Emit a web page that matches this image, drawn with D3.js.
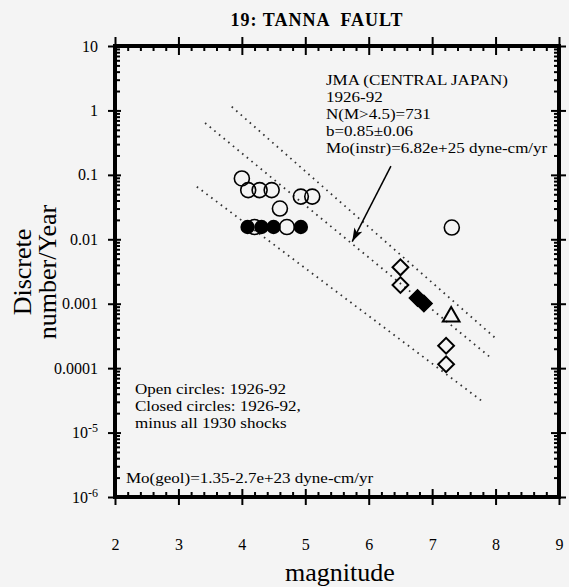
<!DOCTYPE html>
<html>
<head>
<meta charset="utf-8">
<script src="https://cdn.jsdelivr.net/npm/d3@7"></script>
<style>
  body { margin: 0; background: #f4f4f4; }
  svg { display: block; font-family: "Liberation Serif", "Times New Roman", serif; }
</style>
</head>
<body>
<svg id="chart" width="569" height="587"></svg>
<script>
// ---- data ----
const xTicks = [2, 3, 4, 5, 6, 7, 8, 9];
const yTicks = [10, 1, 0.1, 0.01, 0.001, 0.0001, 1e-5, 1e-6];
const yTickLabels = ["10", "1", "0.1", "0.01", "0.001", "0.0001", "10^-5", "10^-6"];

// open circles: 1926-92
const openMag  = [4.00, 4.10, 4.28, 4.47, 4.60, 4.93, 5.11, 4.20, 4.71, 7.31];
const openRate = [0.088, 0.058, 0.058, 0.058, 0.030, 0.046, 0.046, 0.0155, 0.0155, 0.0152];

// closed circles: 1926-92 minus all 1930 shocks
const closedMag  = [4.09, 4.31, 4.50, 4.93];
const closedRate = [0.0155, 0.0155, 0.0155, 0.0155];

// open diamonds
const diamondMag  = [6.50, 6.50, 7.22, 7.22];
const diamondRate = [0.00367, 0.00195, 0.000223, 0.000115];

// filled diamonds
const fDiamondMag  = [6.77, 6.87];
const fDiamondRate = [0.00123, 0.00101];

// open triangle
const triMag  = [7.30];
const triRate = [0.00063];

// dotted reference lines, from start (magnitude, rate) to end (magnitude, rate)
const refLineStartMag  = [3.84, 3.42, 3.29];
const refLineStartRate = [1.143, 0.638, 0.0655];
const refLineEndMag    = [8.03, 7.91, 7.80];
const refLineEndRate   = [2.74e-4, 1.49e-4, 3.01e-5];

// annotation arrow (magnitude, rate)
const arrowFrom = [6.35, 0.137];
const arrowTo   = [5.74, 0.0092];

const noteLines = ["JMA (CENTRAL JAPAN)", "1926-92", "N(M>4.5)=731", "b=0.85\u00b10.06",
                   "Mo(instr)=6.82e+25 dyne-cm/yr"];
const legendLines = ["Open circles: 1926-92", "Closed circles: 1926-92,", "minus all 1930 shocks"];
const geolNote = "Mo(geol)=1.35-2.7e+23 dyne-cm/yr";

// ---- layout ----
const svg = d3.select("#chart");
const L = 115, R = 559, T = 46, B = 497;
const x = d3.scaleLinear().domain([2, 9]).range([L, R]);
const y = d3.scaleLog().domain([1e-6, 10]).range([B, T]);
const FONT = '"Liberation Serif", "Times New Roman", serif';

const xMinor = d3.range(2, 9.001, 0.2).filter(v => Math.abs(v - Math.round(v)) > 1e-6);
const yMinor = [];
for (let e = -6; e < 1; e++) for (let k = 2; k <= 9; k++) yMinor.push(k * Math.pow(10, e));

function tickAxis(axisGen, tx, ty, values, size) {
  const g = svg.append("g").attr("transform", `translate(${tx},${ty})`)
    .call(axisGen.tickValues(values).tickSize(size).tickFormat(""));
  g.select(".domain").remove();
  g.selectAll("line").attr("stroke", "#000").attr("stroke-width", 2);
  return g;
}

// major ticks cross the frame, minor ticks point inward
tickAxis(d3.axisBottom(x), 0, B, xTicks, 8);
tickAxis(d3.axisBottom(x), 0, B, xTicks, -8);
tickAxis(d3.axisBottom(x), 0, B, xMinor, -5);
tickAxis(d3.axisTop(x), 0, T, xTicks, 9);
tickAxis(d3.axisTop(x), 0, T, xTicks, -9);
tickAxis(d3.axisTop(x), 0, T, xMinor, -5);
tickAxis(d3.axisLeft(y), L, 0, yTicks, 7);
tickAxis(d3.axisLeft(y), L, 0, yTicks, -6);
tickAxis(d3.axisLeft(y), L, 0, yMinor, -5);
tickAxis(d3.axisRight(y), R, 0, yTicks, 7);
tickAxis(d3.axisRight(y), R, 0, yTicks, -8);
tickAxis(d3.axisRight(y), R, 0, yMinor, -5);

// frame
svg.append("rect").attr("x", L).attr("y", T).attr("width", R - L).attr("height", B - T)
  .attr("fill", "none").attr("stroke", "#000").attr("stroke-width", 4);

// tick labels
const xl = svg.append("g").attr("transform", `translate(0,${B})`)
  .call(d3.axisBottom(x).tickValues(xTicks).tickSize(0).tickPadding(42).tickFormat(d3.format("d")));
xl.select(".domain").remove();
xl.attr("font-family", FONT).attr("font-size", 16);
xl.selectAll("text").attr("fill", "#000");

const yl = svg.append("g").attr("transform", `translate(${L},0)`)
  .call(d3.axisLeft(y).tickValues(yTicks).tickSize(0).tickPadding(17)
    .tickFormat((d, i) => yTickLabels[i]));
yl.select(".domain").remove();
yl.attr("font-family", FONT).attr("font-size", 16);
yl.selectAll("text").attr("fill", "#000").each(function () {
  const t = d3.select(this);
  const s = t.text();
  if (s.includes("^")) {
    const [base, exp] = s.split("^");
    t.text(null);
    t.append("tspan").text(base);
    t.append("tspan").attr("dy", "-0.5em").attr("font-size", 12).text(exp);
  }
});

// axis titles
svg.append("text").attr("x", 340).attr("y", 581).attr("text-anchor", "middle")
  .attr("font-size", 26).text("magnitude");
const yt = svg.append("text").attr("transform", "translate(0,272) rotate(-90)")
  .attr("text-anchor", "middle").attr("font-size", 26);
yt.append("tspan").attr("x", 0).attr("y", 31).text("Discrete");
yt.append("tspan").attr("x", 0).attr("y", 56).text("number/Year");

// title
svg.append("text").attr("x", 317).attr("y", 26).attr("text-anchor", "middle")
  .attr("font-size", 18).attr("font-weight", "bold").attr("letter-spacing", 1)
  .style("white-space", "pre").text("19: TANNA  FAULT");

// dotted reference lines
const plot = svg.append("g");
plot.selectAll("line.ref").data(refLineStartMag).join("line").attr("class", "ref")
  .attr("x1", (d, i) => x(refLineStartMag[i])).attr("y1", (d, i) => y(refLineStartRate[i]))
  .attr("x2", (d, i) => x(refLineEndMag[i])).attr("y2", (d, i) => y(refLineEndRate[i]))
  .attr("stroke", "#333").attr("stroke-width", 1.8).attr("stroke-dasharray", "1.6 4.4");

// closed circles
plot.selectAll("circle.closed").data(closedMag).join("circle").attr("class", "closed")
  .attr("cx", (d, i) => x(closedMag[i])).attr("cy", (d, i) => y(closedRate[i]))
  .attr("r", 7.2).attr("fill", "#000");

// open circles
plot.selectAll("circle.open").data(openMag).join("circle").attr("class", "open")
  .attr("cx", (d, i) => x(openMag[i])).attr("cy", (d, i) => y(openRate[i]))
  .attr("r", 7.5).attr("fill", "none").attr("stroke", "#000").attr("stroke-width", 1.6);

// diamonds
const diamond = d3.symbol().type(d3.symbolSquare);
plot.selectAll("path.diam").data(diamondMag).join("path").attr("class", "diam")
  .attr("d", diamond.size(125)())
  .attr("transform", (d, i) => `translate(${x(diamondMag[i])},${y(diamondRate[i])}) rotate(45)`)
  .attr("fill", "none").attr("stroke", "#000").attr("stroke-width", 2);
plot.selectAll("path.fdiam").data(fDiamondMag).join("path").attr("class", "fdiam")
  .attr("d", diamond.size(135)())
  .attr("transform", (d, i) => `translate(${x(fDiamondMag[i])},${y(fDiamondRate[i])}) rotate(45)`)
  .attr("fill", "#000").attr("stroke", "#000").attr("stroke-width", 1.5);

// triangle
plot.selectAll("path.tri").data(triMag).join("path").attr("class", "tri")
  .attr("d", d3.symbol().type(d3.symbolTriangle).size(120)())
  .attr("transform", (d, i) => `translate(${x(triMag[i])},${y(triRate[i])})`)
  .attr("fill", "none").attr("stroke", "#000").attr("stroke-width", 2);

// arrow
svg.append("defs").append("marker").attr("id", "ah").attr("viewBox", "0 0 12 8")
  .attr("refX", 12).attr("refY", 4).attr("markerWidth", 14).attr("markerHeight", 9)
  .attr("markerUnits", "userSpaceOnUse").attr("orient", "auto")
  .append("path").attr("d", "M0,0 L12,4 L0,8 L3,4 Z").attr("fill", "#000");
svg.append("line")
  .attr("x1", x(arrowFrom[0])).attr("y1", y(arrowFrom[1]))
  .attr("x2", x(arrowTo[0])).attr("y2", y(arrowTo[1]))
  .attr("stroke", "#000").attr("stroke-width", 1.5).attr("marker-end", "url(#ah)");

// stacked note text: compact line height, widened to the 17px set width
const NOTE_SIZE = 15, SET_SIZE = 17;
function widen(sel) {
  sel.each(function () {
    const w = this.getComputedTextLength();
    d3.select(this).attr("textLength", w * SET_SIZE / NOTE_SIZE)
      .attr("lengthAdjust", "spacingAndGlyphs");
  });
}
svg.append("g").selectAll("text").data(noteLines).join("text")
  .attr("x", 326).attr("y", (d, i) => 85 + i * 17).attr("font-size", NOTE_SIZE).text(d => d)
  .call(widen);
svg.append("g").selectAll("text").data(legendLines).join("text")
  .attr("x", 135).attr("y", (d, i) => 394 + i * 16.8).attr("font-size", NOTE_SIZE).text(d => d)
  .call(widen);
svg.append("text").attr("x", 126).attr("y", 483).attr("font-size", NOTE_SIZE).text(geolNote)
  .call(widen);
</script>
</body>
</html>
